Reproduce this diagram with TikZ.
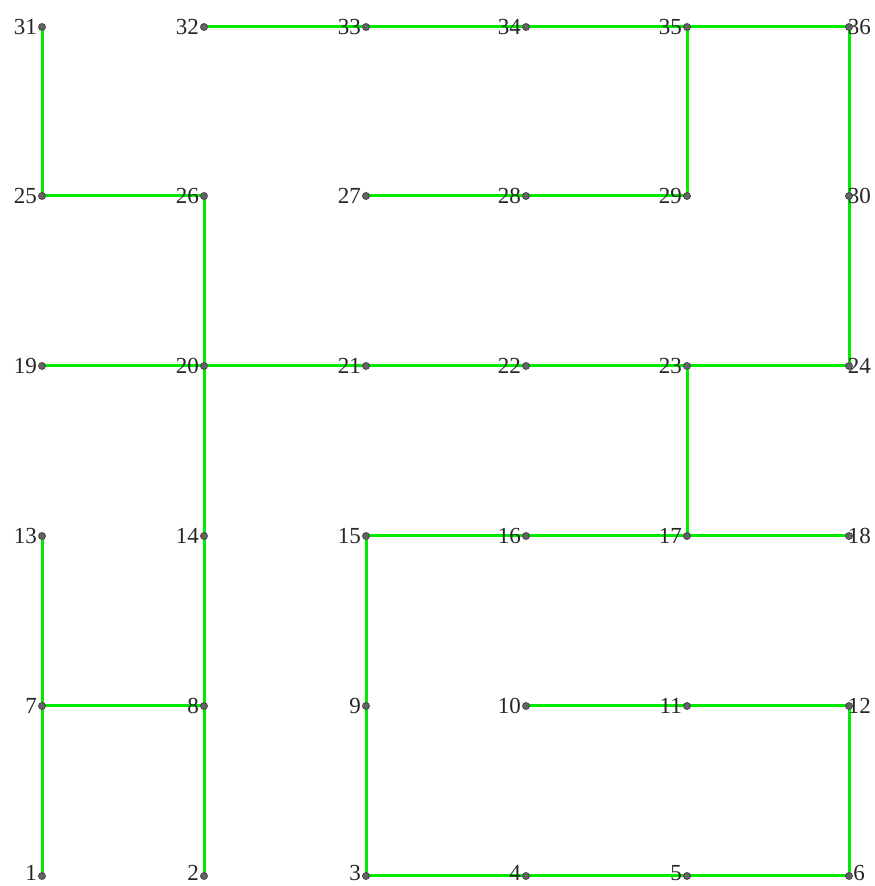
\documentclass[tikz,border=0pt]{standalone}
\usepackage{fontspec}
\setmainfont{Liberation Serif}
\definecolor{edgegreen}{RGB}{0,235,0}
\definecolor{dotgray}{RGB}{100,100,100}
\begin{document}
\begin{tikzpicture}[x=1pt,y=1pt,
  pt/.style={circle,draw=dotgray!70!black,fill=dotgray,line width=0.8pt,inner sep=0pt,minimum size=7pt},
  lab/.style={font=\fontsize{23}{23}\selectfont,inner sep=0pt,text=black!85},
  edge/.style={draw=edgegreen,line width=3pt}]
\useasboundingbox (0,0) rectangle (875,886);
% grid nodes
\foreach \r/\y in {0/10,1/180,2/350,3/520,4/690,5/859}{
  \foreach \c/\x in {1/42,2/204,3/366,4/526,5/687,6/849}{
    \pgfmathtruncatemacro{\n}{\r*6+\c}
    \coordinate (c\n) at (\x,\y);
  }
}
% edges
\foreach \a/\b in {31/25,25/26,26/20,20/14,14/8,8/2,8/7,7/13,7/1,
  19/20,20/21,21/22,22/23,23/24,24/30,30/36,36/35,35/34,34/33,33/32,
  35/29,29/28,28/27,23/17,17/16,16/15,17/18,15/9,9/3,3/4,4/5,5/6,6/12,12/11,11/10}{
  \draw[edge] (c\a) -- (c\b);
}
% points and labels
\foreach \r/\y/\ly/\lx in {0/10/13/865,1/180/180/871,2/350/350/871,3/520/520/871,4/690/690/871,5/859/859/871}{
  \foreach \c/\x in {1/42,2/204,3/366,4/526,5/687}{
    \pgfmathtruncatemacro{\n}{\r*6+\c}
    \node[lab,anchor=east] (l\n) at (\x-5,\ly) {\n};
    \node[pt] (n\n) at (c\n) {};
  }
  \pgfmathtruncatemacro{\m}{\r*6+6}
  \node[pt] (n\m) at (c\m) {};
  \node[lab,anchor=east] (l\m) at (\lx,\ly) {\m};
}
\end{tikzpicture}
\end{document}
